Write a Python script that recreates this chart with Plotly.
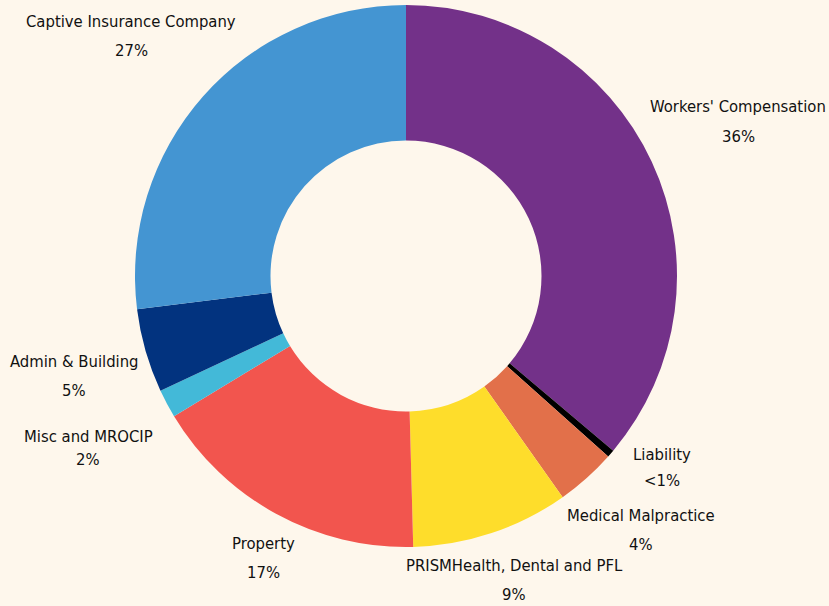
import plotly.graph_objects as go

labels = ["Workers' Compensation", "Liability", "Medical Malpractice",
          "PRISMHealth, Dental and PFL", "Property", "Misc and MROCIP",
          "Admin & Building", "Captive Insurance Company"]
values = [36.2, 0.45, 3.6, 9.4, 16.8, 1.7, 5.0, 27.0]
pct_text = ["36%", "<1%", "4%", "9%", "17%", "2%", "5%", "27%"]
colors = ["#733189", "#000000", "#E2704A", "#FEDD2B", "#F2554E",
          "#43B9D8", "#02337F", "#4495D2"]

# label placement (pixel centres: x, name line y, percent line y)
W, H = 829, 606
label_pos = [(738, 107, 136), (662, 454, 480), (641, 515, 544),
             (514, 565, 594), (263, 543, 572), (88, 436, 459),
             (74, 361, 390), (131, 22, 50)]

fig = go.Figure(go.Pie(
    labels=labels, values=values, sort=False, direction="clockwise",
    rotation=0, hole=0.5, textinfo="none", hoverinfo="label+percent",
    marker=dict(colors=colors, line=dict(width=0)),
    domain=dict(x=[135 / W, 677 / W], y=[1 - 547 / H, 1 - 5 / H]),
    showlegend=False,
))

font = dict(family="DejaVu Sans Condensed, sans-serif", size=16.5, color="#111111")
anns = []
for name, pct, (x, y1, y2) in zip(labels, pct_text, label_pos):
    anns.append(dict(text=name, x=x / W, y=1 - y1 / H, xref="paper", yref="paper",
                     showarrow=False, xanchor="center", yanchor="middle", font=font))
    anns.append(dict(text=pct, x=x / W, y=1 - y2 / H, xref="paper", yref="paper",
                     showarrow=False, xanchor="center", yanchor="middle", font=font))

fig.update_layout(width=W, height=H, margin=dict(l=0, r=0, t=0, b=0),
                  paper_bgcolor="#FEF7EC", plot_bgcolor="#FEF7EC",
                  annotations=anns)
fig.write_html("out.html", config={"displayModeBar": False},
               post_script="document.body.style.margin='0';"
                           "document.body.style.background='#FEF7EC';"
                           "document.body.style.overflow='hidden';")
